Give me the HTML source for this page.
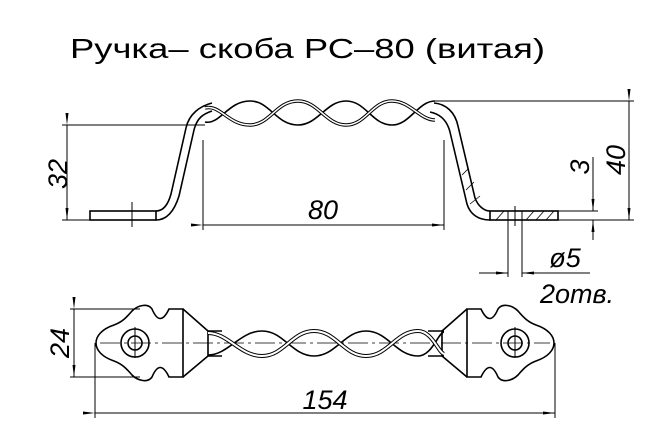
<!DOCTYPE html>
<html><head><meta charset="utf-8"><style>html,body{margin:0;padding:0;background:#fff}svg{display:block}</style></head>
<body>
<svg width="656" height="429" viewBox="0 0 656 429" xmlns="http://www.w3.org/2000/svg" font-family="Liberation Sans, sans-serif">
<defs>
<marker id="a" markerWidth="12" markerHeight="6" refX="12" refY="3" orient="auto" markerUnits="userSpaceOnUse"><path d="M0,1.5 L12,3 L0,4.5z" fill="#000"/></marker>
</defs>
<text x="70" y="58" font-size="28" textLength="475" lengthAdjust="spacingAndGlyphs" fill="#000">Ручка– скоба  РС–80  (витая)</text>

<g fill="none" stroke="#000" stroke-width="1">
<rect x="90" y="211" width="66" height="9" stroke-width="1.6"/>
<line x1="132" y1="202" x2="132" y2="227"/>
<path d="M156,220 C166,220 174,212 179,196 L194,130 C197,118 203,114 212,111" stroke-width="1.6"/>
<path d="M156,211 C163,211 168,205 171,194 L186,128 C189,114 200,106 212,103" stroke-width="1.6"/>
<path d="M490,220 C478,220 470,214 467,204 L450,132 C447,120 440,114 430,112" stroke-width="1.6"/>
<path d="M490,211 C484,211 478,206 475,198 L458,126 C455,112 446,104 434,103" stroke-width="1.6"/>
<path d="M462,175 l6,-6 M466,190 l8,-8 M470,204 l10,-8" stroke-width="0.8"/>
<rect x="490" y="211" width="68" height="9" stroke-width="1.6"/>
<path d="M496,220 l8,-9 M526,220 l8,-9 M536,220 l8,-9 M546,220 l8,-9" stroke-width="0.8"/>
<line x1="508" y1="211" x2="508" y2="277"/>
<line x1="522" y1="211" x2="522" y2="277"/>
<line x1="515" y1="206" x2="515" y2="226"/>
<path d="M205,122 C220,125 228,101 250,101 C270,101 276,125 298,125 C318,125 326,101 346,101 C366,101 372,125 392,125 C410,125 418,101 435,101" stroke-width="1.6"/>
<path d="M205,108 C220,104 228,125 250,125 C270,125 276,101 298,101 C318,101 326,125 346,125 C366,125 372,101 392,101 C410,101 420,120 435,120" stroke-width="3.5"/>
<path d="M205,108 C220,104 228,125 250,125 C270,125 276,101 298,101 C318,101 326,125 346,125 C366,125 372,101 392,101 C410,101 420,120 435,120" stroke="#fff" stroke-width="1.5"/>
<line x1="62" y1="125" x2="205" y2="125"/>
<line x1="62" y1="220" x2="90" y2="220"/>
<line x1="67" y1="125" x2="67" y2="220" marker-start="url(#a)" marker-end="url(#a)"/>
<line x1="203" y1="140" x2="203" y2="230"/>
<line x1="444" y1="140" x2="444" y2="230"/>
<line x1="203" y1="225" x2="444" y2="225" marker-start="url(#a)" marker-end="url(#a)"/>
<line x1="435" y1="101" x2="634" y2="101"/>
<line x1="558" y1="220" x2="634" y2="220"/>
<line x1="558" y1="211" x2="598" y2="211"/>
<line x1="629" y1="101" x2="629" y2="220" marker-start="url(#a)" marker-end="url(#a)"/>
<line x1="593" y1="157" x2="593" y2="211" marker-end="url(#a)"/>
<line x1="593" y1="240" x2="593" y2="220" marker-end="url(#a)"/>
<line x1="479" y1="273" x2="508" y2="273" marker-end="url(#a)"/>
<line x1="590" y1="273" x2="522" y2="273" marker-end="url(#a)"/>

<line x1="100" y1="343" x2="550" y2="343" stroke-dasharray="20,4,3,4" stroke-width="0.8"/>
<g id="lp" stroke-width="1.6">
<path d="M183,309 L169,309 Q160,328 152,309 C148,303 138,305 132,311 C126,318 122,322 114,325 C102,329 96,336 96,343 C96,350 102,357 114,361 C122,364 126,368 132,375 C138,381 148,383 152,377 Q160,358 169,377 L183,377 Z"/>
<circle cx="135" cy="343" r="14"/>
<circle cx="135" cy="343" r="7"/>
<line x1="135" y1="327" x2="135" y2="358" stroke-width="1"/>
<path d="M183,309 L208,331 L208,356 L183,377"/>
</g>
<use href="#lp" transform="translate(650,0) scale(-1,1)"/>
<path d="M208,331 L222,331 M208,356 L222,356 M428,331 L444,331 M428,356 L444,356" stroke-width="1.6"/>
<path d="M208,355 C228,355 240,331 262,331 C284,331 292,356 314,356 C336,356 344,331 366,331 C388,331 396,356 418,356 C432,356 438,333 444,332" stroke-width="1.6"/>
<path d="M208,333 C228,333 240,356 262,356 C284,356 292,331 314,331 C336,331 344,356 366,356 C388,356 396,331 418,331 C432,331 438,352 444,354" stroke-width="4"/>
<path d="M208,333 C228,333 240,356 262,356 C284,356 292,331 314,331 C336,331 344,356 366,356 C388,356 396,331 418,331 C432,331 438,352 444,354" stroke="#fff" stroke-width="2"/>
<line x1="70" y1="309" x2="140" y2="309"/>
<line x1="70" y1="377" x2="140" y2="377"/>
<line x1="74" y1="309" x2="74" y2="377" marker-start="url(#a)" marker-end="url(#a)"/>
<line x1="95" y1="343" x2="95" y2="418"/>
<line x1="555" y1="343" x2="555" y2="418"/>
<line x1="95" y1="413" x2="555" y2="413" marker-start="url(#a)" marker-end="url(#a)"/>
</g>

<g font-style="italic" font-size="27" fill="#000">
<text x="323" y="219" text-anchor="middle">80</text>
<text x="325" y="409" text-anchor="middle">154</text>
<text x="565" y="267" text-anchor="middle">ø5</text>
<text x="577" y="303" text-anchor="middle">2отв.</text>
<text transform="translate(67,174) rotate(-90)" text-anchor="middle">32</text>
<text transform="translate(625,160) rotate(-90)" text-anchor="middle">40</text>
<text transform="translate(589,167) rotate(-90)" text-anchor="middle">3</text>
<text transform="translate(69,343) rotate(-90)" text-anchor="middle">24</text>
</g>
</svg>
</body></html>
